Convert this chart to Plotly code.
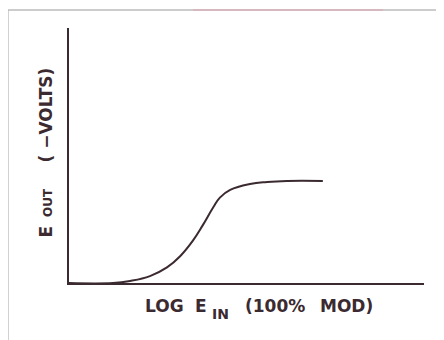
import plotly.graph_objects as go

# Transfer curve: log input (x) vs output (y), arbitrary units
x_vals = [0.0, 1.24, 1.72, 2.28, 2.76, 3.13, 3.49, 3.77, 4.06, 4.25, 4.54, 5.10, 5.58, 6.14, 7.15]
y_vals = [0.0, 0.0, 0.08, 0.27, 0.61, 1.05, 1.66, 2.27, 2.96, 3.35, 3.65, 3.88, 3.96, 4.0, 4.0]

# axis title pieces (main text, subscript)
x_title_parts = ["LOG", "E", "IN", "(100%", "MOD)"]
y_title_parts = ["E", "OUT", "( −VOLTS)"]

INK = "#3b2a2f"
FONT = "DejaVu Sans"

# the page body adds an 8px offset; figure sized to fit the 444x340 view
W, H = 436, 332
L, R, T, B = 61, 20, 20, 57
PW, PH = W - L - R, H - T - B
OFF = 8


def px(xp):
    """reference-view pixel x -> paper coordinate"""
    return (xp - OFF - L) / PW


def py(yp):
    """reference-view pixel y -> paper coordinate"""
    return (H - B - (yp - OFF)) / PH


fig = go.Figure()
fig.add_trace(go.Scatter(x=x_vals, y=y_vals, mode="lines",
                         line=dict(color=INK, width=2, shape="spline", smoothing=1.2),
                         hoverinfo="skip", showlegend=False))

fig.update_xaxes(range=[0, 10], showline=True, linecolor=INK, linewidth=2,
                 showgrid=False, zeroline=False, showticklabels=False, ticks="")
fig.update_yaxes(range=[0, 10], showline=True, linecolor=INK, linewidth=2,
                 showgrid=False, zeroline=False, showticklabels=False, ticks="")

shapes = [
    dict(type="line", xref="paper", yref="paper", x0=px(8), x1=px(443), y0=py(10), y1=py(10),
         line=dict(color="#9a9a9a", width=1.2)),
    dict(type="line", xref="paper", yref="paper", x0=px(193), x1=px(383), y0=py(10), y1=py(10),
         line=dict(color="#e2a3b6", width=1.2)),
    dict(type="line", xref="paper", yref="paper", x0=px(8), x1=px(8), y0=py(10), y1=py(340),
         line=dict(color="#b8b0b0", width=1.2)),
    dict(type="line", xref="paper", yref="paper", x0=px(443), x1=px(443), y0=py(10), y1=py(123),
         line=dict(color="#c0bcbc", width=1.2)),
]


def ann(text, x, y, size, xanchor="left", angle=0):
    return dict(text=text, xref="paper", yref="paper", x=px(x), y=py(y),
                xanchor=xanchor, yanchor="middle", showarrow=False, textangle=angle,
                font=dict(family=FONT, size=size, color=INK, weight="bold"))


annotations = [
    ann(x_title_parts[0], 143, 306, 17),
    ann(x_title_parts[1], 193, 306, 17),
    ann(x_title_parts[2], 210, 313.5, 14),
    ann(x_title_parts[3], 243, 306, 17),
    ann(x_title_parts[4], 318, 306, 17),
    ann(y_title_parts[0], 45.5, 232, 17, xanchor="center", angle=-90),
    ann(y_title_parts[1], 48, 203, 12, xanchor="center", angle=-90),
    ann(y_title_parts[2], 45.5, 115, 17, xanchor="center", angle=-90),
]

fig.update_layout(width=W, height=H, margin=dict(l=L, r=R, t=T, b=B),
                  paper_bgcolor="white", plot_bgcolor="white",
                  shapes=shapes, annotations=annotations, showlegend=False)

fig.write_html("out.html")
